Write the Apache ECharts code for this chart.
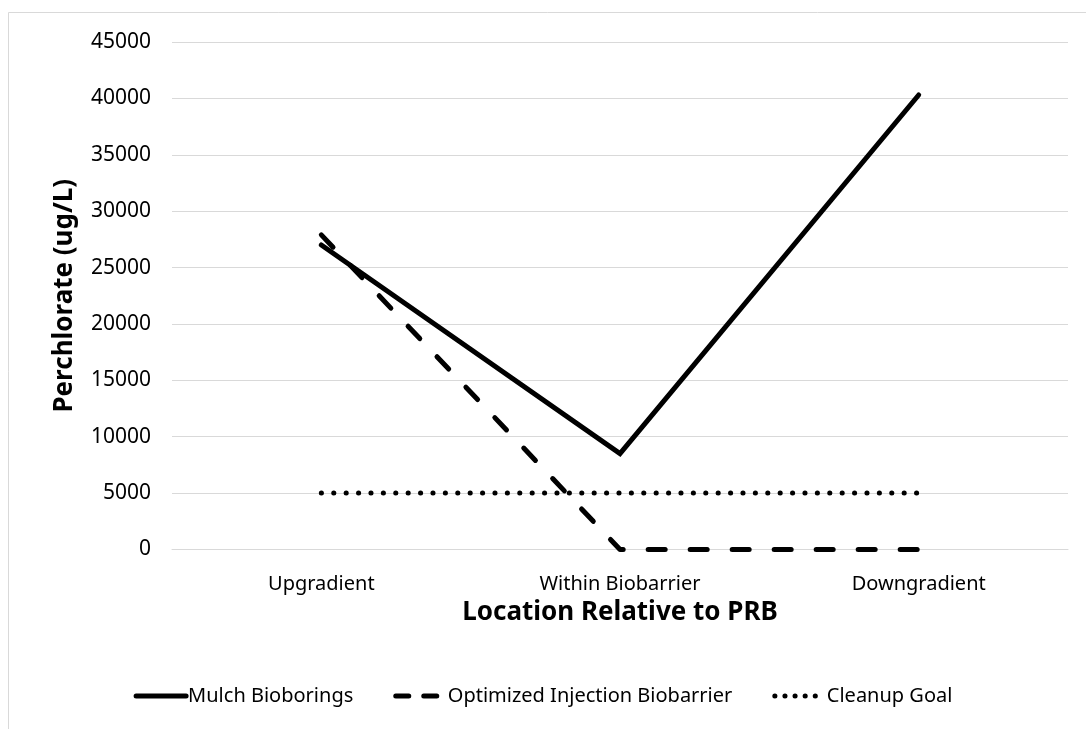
<!DOCTYPE html>
<html>
<head>
<meta charset="utf-8">
<script src="https://cdn.jsdelivr.net/npm/echarts@6/dist/echarts.min.js"></script>
<style>
html,body{margin:0;padding:0;background:#fff;}
#chart{width:1086px;height:729px;}
</style>
</head>
<body>
<div id="chart"></div>
<script>
const categories = ['Upgradient', 'Within Biobarrier', 'Downgradient'];
const mulchBioborings = [27000, 8500, 40300];
const optimizedInjection = [27900, 0, 0];
const cleanupGoal = [5000, 5000, 5000];
const yTicks = {min: 0, max: 45000, interval: 5000};
const seriesNames = ['Mulch Bioborings', 'Optimized Injection Biobarrier', 'Cleanup Goal'];

const FONT = 'Noto Sans';
const solid = {color: '#000', width: 5, cap: 'round', join: 'miter'};
const dashed = {color: '#000', width: 5, type: [17, 25], cap: 'round', join: 'round'};
const dotted = {color: '#000', width: 5, type: [0.1, 12.3], cap: 'round'};

const chart = echarts.init(document.getElementById('chart'), null, {renderer: 'canvas'});
chart.setOption({
  animation: false,
  backgroundColor: '#ffffff',
  graphic: [{
    type: 'rect', silent: true, z: -10,
    shape: {x: 8.5, y: 12.5, width: 1200, height: 900},
    style: {fill: 'none', stroke: '#d9d9d9', lineWidth: 1}
  }],
  grid: {left: 172, right: 18, top: 42, bottom: 179.5},
  legend: {
    bottom: 18,
    left: 'center',
    itemWidth: 50,
    itemHeight: 14,
    itemGap: 40,
    itemStyle: {color: 'transparent', borderWidth: 0, opacity: 0},
    textStyle: {fontFamily: FONT, fontSize: 20, color: '#000', padding: [0, 0, 0, -3]},
    data: [
      {name: seriesNames[0], lineStyle: {width: 5, type: 'solid'}},
      {name: seriesNames[1], lineStyle: {width: 5, type: [13, 15]}},
      {name: seriesNames[2], lineStyle: {width: 5, type: [0.1, 10]}}
    ]
  },
  xAxis: {
    type: 'category',
    data: categories,
    boundaryGap: true,
    axisLine: {lineStyle: {color: '#d9d9d9', width: 1}},
    axisTick: {show: false},
    axisLabel: {fontFamily: FONT, fontSize: 20, color: '#000', margin: 25},
    name: 'Location Relative to PRB',
    nameLocation: 'middle',
    nameGap: 49,
    nameTextStyle: {fontFamily: FONT, fontSize: 26, fontWeight: 'bold', color: '#000'}
  },
  yAxis: {
    type: 'value',
    min: yTicks.min, max: yTicks.max, interval: yTicks.interval,
    axisLine: {show: false},
    axisTick: {show: false},
    splitLine: {lineStyle: {color: '#d9d9d9', width: 1}},
    axisLabel: {fontFamily: FONT, fontSize: 21, color: '#000', margin: 21,
      formatter: function (v) { return String(v); }},
    name: 'Perchlorate (ug/L)',
    nameLocation: 'middle',
    nameGap: 94,
    nameTextStyle: {fontFamily: FONT, fontSize: 26, fontWeight: 'bold', color: '#000'}
  },
  series: [
    {name: seriesNames[0], type: 'line', data: mulchBioborings, symbol: 'none', z: 3,
      lineStyle: solid, itemStyle: {color: '#000'}},
    {name: seriesNames[1], type: 'line', data: optimizedInjection, symbol: 'none', z: 2,
      lineStyle: dashed, itemStyle: {color: '#000'}},
    {name: seriesNames[2], type: 'line', data: cleanupGoal, symbol: 'none', z: 1,
      lineStyle: dotted, itemStyle: {color: '#000'}}
  ]
});
</script>
</body>
</html>
